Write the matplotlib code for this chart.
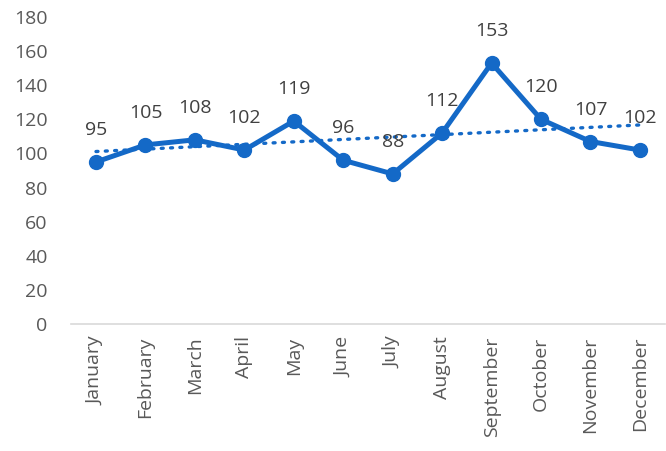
import numpy as np
import matplotlib.pyplot as plt

plt.rcParams['font.family'] = ['Open Sans', 'DejaVu Sans']

months = ["January", "February", "March", "April", "May", "June",
          "July", "August", "September", "October", "November", "December"]
values = [95, 105, 108, 102, 119, 96, 88, 112, 153, 120, 107, 102]

blue = '#1469C7'

fig = plt.figure(figsize=(6.66, 4.51), dpi=100)
ax = fig.add_axes([0.107, 0.2816, 0.891, 0.6807])

x = np.arange(len(months))
ax.plot(x, values, color=blue, lw=3.6, marker='o', markersize=10, zorder=3)

# linear trendline
k, b = np.polyfit(x, values, 1)
ax.plot(x, k * x + b, color=blue, lw=2.4, linestyle=(0, (0.6, 2.2)),
        dash_capstyle='round', zorder=2)

for xi, v in zip(x, values):
    ax.annotate(str(v), (xi, v), xytext=(0, 23), textcoords='offset points',
                ha='center', va='center', fontsize=14, color='#404040')

ax.set_xlim(-0.5, 11.5)
ax.set_ylim(0, 180)
ax.set_yticks(range(0, 181, 20))
ax.set_xticks(x)
ax.set_xticklabels(months, rotation=90)
ax.tick_params(axis='both', length=0, labelsize=14, labelcolor='#595959')
ax.tick_params(axis='y', pad=17)
ax.tick_params(axis='x', pad=9)

for s in ['top', 'right', 'left']:
    ax.spines[s].set_visible(False)
ax.spines['bottom'].set_color('#D9D9D9')
ax.spines['bottom'].set_linewidth(1.2)

fig.savefig('out.png', dpi=100)
